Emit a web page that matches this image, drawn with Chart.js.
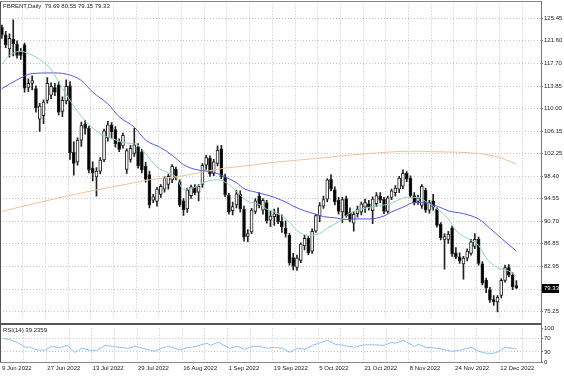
<!DOCTYPE html>
<html><head><meta charset="utf-8">
<script src="https://cdn.jsdelivr.net/npm/chart.js@4/dist/chart.umd.min.js"></script>
<style>
html,body{margin:0;padding:0;background:#fff;}
body{width:564px;height:376px;overflow:hidden;position:relative;}
canvas{position:absolute;left:0;}
.t{position:absolute;font-family:"Liberation Sans",Arial,sans-serif;font-size:6px;line-height:7px;color:#222;white-space:pre;}
</style></head><body>
<canvas id="main" width="564" height="324" style="top:0"></canvas>
<canvas id="rsi" width="564" height="52" style="top:324px"></canvas>
<div id="title" class="t" style="left:3px;top:3px"></div>
<div id="rsiTitle" class="t" style="left:3px;top:327px"></div>
<script>
// ---------- categories (trading days) ----------
const dates = [
 "9 Jun 2022","10 Jun 2022","13 Jun 2022","14 Jun 2022","15 Jun 2022","16 Jun 2022","17 Jun 2022","20 Jun 2022","21 Jun 2022","22 Jun 2022",
 "23 Jun 2022","24 Jun 2022","27 Jun 2022","28 Jun 2022","29 Jun 2022","30 Jun 2022","1 Jul 2022","4 Jul 2022","5 Jul 2022","6 Jul 2022",
 "7 Jul 2022","8 Jul 2022","11 Jul 2022","12 Jul 2022","13 Jul 2022","14 Jul 2022","15 Jul 2022","18 Jul 2022","19 Jul 2022","20 Jul 2022",
 "21 Jul 2022","22 Jul 2022","25 Jul 2022","26 Jul 2022","27 Jul 2022","28 Jul 2022","29 Jul 2022","1 Aug 2022","2 Aug 2022","3 Aug 2022",
 "4 Aug 2022","5 Aug 2022","8 Aug 2022","9 Aug 2022","10 Aug 2022","11 Aug 2022","12 Aug 2022","15 Aug 2022","16 Aug 2022","17 Aug 2022",
 "18 Aug 2022","19 Aug 2022","22 Aug 2022","23 Aug 2022","24 Aug 2022","25 Aug 2022","26 Aug 2022","29 Aug 2022","30 Aug 2022","31 Aug 2022",
 "1 Sep 2022","2 Sep 2022","5 Sep 2022","6 Sep 2022","7 Sep 2022","8 Sep 2022","9 Sep 2022","12 Sep 2022","13 Sep 2022","14 Sep 2022",
 "15 Sep 2022","16 Sep 2022","19 Sep 2022","20 Sep 2022","21 Sep 2022","22 Sep 2022","23 Sep 2022","26 Sep 2022","27 Sep 2022","28 Sep 2022",
 "29 Sep 2022","30 Sep 2022","3 Oct 2022","4 Oct 2022","5 Oct 2022","6 Oct 2022","7 Oct 2022","10 Oct 2022","11 Oct 2022","12 Oct 2022",
 "13 Oct 2022","14 Oct 2022","17 Oct 2022","18 Oct 2022","19 Oct 2022","20 Oct 2022","21 Oct 2022","24 Oct 2022","25 Oct 2022","26 Oct 2022",
 "27 Oct 2022","28 Oct 2022","31 Oct 2022","1 Nov 2022","2 Nov 2022","3 Nov 2022","4 Nov 2022","7 Nov 2022","8 Nov 2022","9 Nov 2022",
 "10 Nov 2022","11 Nov 2022","14 Nov 2022","15 Nov 2022","16 Nov 2022","17 Nov 2022","18 Nov 2022","21 Nov 2022","22 Nov 2022","23 Nov 2022",
 "24 Nov 2022","25 Nov 2022","28 Nov 2022","29 Nov 2022","30 Nov 2022","1 Dec 2022","2 Dec 2022","5 Dec 2022","6 Dec 2022","7 Dec 2022",
 "8 Dec 2022","9 Dec 2022","12 Dec 2022","13 Dec 2022","14 Dec 2022","15 Dec 2022","16 Dec 2022"
];

// ---------- OHLC series ----------
const open = [123.9,122.6,120.2,121.9,121.0,119.7,120.9,113.6,114.3,113.4,
 108.2,108.8,111.4,112.3,113.6,114.0,109.5,111.3,113.9,102.5,
 100.8,104.6,107.3,106.6,99.8,98.3,99.3,101.2,105.0,107.2,
 106.4,104.3,103.6,99.6,101.3,102.3,103.4,102.6,100.1,98.7,
 94.3,94.1,95.3,96.2,97.0,97.8,99.6,97.4,94.2,92.8,
 95.1,96.5,95.7,97.0,100.3,101.5,98.9,100.6,103.1,98.3,
 95.2,92.5,93.5,95.3,92.8,88.1,88.9,92.4,95.0,92.6,
 93.9,90.9,91.5,92.0,90.7,89.5,88.3,84.5,82.8,84.0,
 86.5,87.8,85.6,89.0,91.6,93.3,94.5,97.9,96.1,94.3,
 92.3,94.6,92.2,90.4,92.0,92.3,93.1,93.7,92.5,93.7,
 95.0,94.5,92.4,94.8,95.6,96.2,96.7,98.9,98.1,95.1,
 94.1,93.4,96.0,92.6,94.2,92.8,90.2,87.5,87.6,89.6,
 85.3,84.6,83.4,84.4,85.2,86.4,87.6,83.4,80.6,79.0,
 77.3,76.9,78.0,80.6,82.8,81.5,79.69];
const high = [124.3,123.2,122.8,125.2,121.6,120.3,121.2,115.1,115.6,113.9,
 110.9,111.5,115.3,114.4,114.3,114.6,112.0,114.9,114.6,104.3,
 105.0,107.7,108.0,107.0,100.9,99.9,101.6,106.5,107.8,107.6,
 106.9,104.8,105.8,103.1,103.7,106.6,104.0,103.0,100.8,99.3,
 95.3,96.5,97.0,98.3,98.8,100.4,100.0,97.8,94.6,96.4,
 96.9,97.0,97.0,100.6,102.0,101.9,101.3,103.6,103.7,98.8,
 95.5,94.0,96.0,95.9,93.3,89.3,92.9,94.6,95.6,94.6,
 94.3,92.5,92.8,93.0,91.8,90.8,88.6,85.2,84.9,87.0,
 88.3,88.1,89.4,91.9,93.9,95.0,98.0,98.7,96.6,94.8,
 94.8,95.0,93.0,92.3,93.3,94.0,94.5,94.3,94.9,95.6,
 95.6,94.8,95.0,96.2,96.8,98.4,99.5,99.2,98.5,95.6,
 95.2,97.0,96.4,94.3,95.3,93.0,90.5,88.6,89.0,89.9,
 86.2,85.3,84.7,86.0,87.6,88.6,88.0,83.8,81.0,79.4,
 78.0,78.0,80.9,83.2,83.3,81.9,80.55];
const low = [122.0,120.4,118.8,119.0,118.6,118.4,112.8,112.9,113.2,109.4,
 106.1,107.4,110.9,111.7,112.2,108.9,108.6,110.8,101.3,98.6,
 100.3,103.5,105.6,99.0,97.6,95.0,98.8,100.9,104.4,104.9,
 103.4,102.6,103.2,98.9,100.8,101.8,99.8,99.0,97.4,93.0,
 93.9,93.3,94.8,95.7,96.2,97.3,97.8,93.2,91.7,92.2,
 94.6,95.2,94.2,96.5,99.6,98.4,98.5,100.2,98.0,94.9,
 91.9,91.8,93.0,92.3,87.3,87.2,88.6,92.0,93.0,91.9,
 90.4,89.8,90.0,90.3,88.8,88.0,83.2,82.4,82.3,83.6,
 85.8,85.0,85.2,88.8,90.6,92.9,94.0,95.9,93.5,91.9,
 90.5,91.4,90.6,89.0,91.4,91.8,92.2,92.6,90.3,93.2,
 93.9,92.0,92.1,94.4,95.0,95.6,96.3,97.5,94.8,93.5,
 93.6,92.9,92.2,92.1,92.6,89.7,87.5,82.5,86.9,84.7,
 84.3,83.5,80.8,83.9,84.9,86.0,83.2,79.8,78.5,76.8,
 76.3,75.2,77.6,80.3,81.2,79.0,79.15];
const close = [122.6,120.9,122.0,121.1,119.1,119.1,113.5,114.3,114.8,110.1,
 110.4,111.1,114.3,113.8,112.8,109.4,111.4,113.8,102.4,100.6,
 104.6,107.1,106.6,99.5,99.0,99.3,101.2,106.2,107.2,106.0,
 104.0,103.0,105.4,102.8,103.2,103.8,100.2,99.5,97.9,93.5,
 94.9,96.2,96.7,98.1,98.4,100.1,98.2,93.5,92.7,96.1,
 96.6,95.6,96.7,100.3,101.6,98.8,100.9,102.9,98.4,95.2,
 92.3,93.2,95.4,92.8,88.0,88.6,92.6,94.2,93.4,94.3,
 90.8,91.6,92.0,90.6,89.8,88.6,83.6,83.0,84.4,86.8,
 87.8,85.3,89.0,91.7,93.4,94.4,97.8,96.2,94.0,92.4,
 94.4,91.6,90.9,91.9,92.8,93.7,93.9,93.1,94.5,95.1,
 94.3,92.4,94.7,95.9,96.4,98.1,98.9,97.9,95.1,93.9,
 94.7,96.7,92.6,93.9,93.1,90.0,87.9,88.1,88.5,85.1,
 84.6,83.9,84.4,85.6,87.2,87.6,83.5,80.1,79.3,77.2,
 76.9,77.7,80.6,82.8,81.5,79.5,79.33];

// ---------- moving averages ----------
const maFast = [["9 Jun 2022",117.6],["13 Jun 2022",119.1],["16 Jun 2022",119.8],["20 Jun 2022",119.4],["23 Jun 2022",118.4],
 ["28 Jun 2022",116.7],["30 Jun 2022",114.6],["4 Jul 2022",112.4],["7 Jul 2022",109.5],["11 Jul 2022",107.9],["15 Jul 2022",105.7],
 ["20 Jul 2022",104.9],["25 Jul 2022",104.2],["29 Jul 2022",103.7],["2 Aug 2022",102.3],["5 Aug 2022",100.0],["10 Aug 2022",99.0],
 ["12 Aug 2022",98.3],["16 Aug 2022",96.2],["19 Aug 2022",96.5],["24 Aug 2022",97.5],["29 Aug 2022",97.8],["1 Sep 2022",97.0],
 ["5 Sep 2022",95.8],["8 Sep 2022",94.1],["13 Sep 2022",93.6],["15 Sep 2022",92.8],["20 Sep 2022",92.0],["23 Sep 2022",90.6],
 ["27 Sep 2022",89.1],["30 Sep 2022",88.3],["5 Oct 2022",88.6],["7 Oct 2022",89.5],["12 Oct 2022",90.6],["17 Oct 2022",92.1],
 ["20 Oct 2022",92.8],["26 Oct 2022",93.3],["31 Oct 2022",93.6],["2 Nov 2022",94.1],["7 Nov 2022",94.8],["10 Nov 2022",94.8],
 ["14 Nov 2022",94.1],["17 Nov 2022",92.8],["22 Nov 2022",91.1],["24 Nov 2022",89.1],["29 Nov 2022",87.8],["2 Dec 2022",86.6],
 ["6 Dec 2022",84.4],["9 Dec 2022",82.8],["14 Dec 2022",82.2],["16 Dec 2022",81.3]];
const maMid = [["9 Jun 2022",113.4],["15 Jun 2022",114.9],["21 Jun 2022",116.0],["28 Jun 2022",116.1],["4 Jul 2022",115.9],
 ["8 Jul 2022",114.8],["13 Jul 2022",112.8],["19 Jul 2022",110.8],["22 Jul 2022",108.6],["28 Jul 2022",106.8],["2 Aug 2022",104.6],
 ["8 Aug 2022",103.3],["11 Aug 2022",102.0],["16 Aug 2022",100.4],["19 Aug 2022",99.6],["24 Aug 2022",99.3],["26 Aug 2022",99.1],
 ["31 Aug 2022",98.3],["5 Sep 2022",97.3],["7 Sep 2022",96.3],["12 Sep 2022",95.7],["15 Sep 2022",95.2],["19 Sep 2022",94.8],
 ["22 Sep 2022",94.0],["26 Sep 2022",93.3],["29 Sep 2022",92.5],["4 Oct 2022",91.9],["6 Oct 2022",91.5],["11 Oct 2022",91.3],
 ["14 Oct 2022",91.0],["18 Oct 2022",91.1],["24 Oct 2022",91.1],["28 Oct 2022",91.6],["1 Nov 2022",92.3],["4 Nov 2022",93.1],
 ["9 Nov 2022",93.9],["11 Nov 2022",93.9],["17 Nov 2022",93.3],["22 Nov 2022",92.5],["28 Nov 2022",92.0],["2 Dec 2022",91.1],
 ["7 Dec 2022",89.5],["12 Dec 2022",87.8],["16 Dec 2022",85.6]];
const maSlow = [["9 Jun 2022",92.4],["4 Jul 2022",95.0],["15 Jul 2022",96.2],["28 Jul 2022",97.3],["3 Aug 2022",97.8],
 ["12 Aug 2022",98.3],["31 Aug 2022",99.8],["9 Sep 2022",100.3],["19 Sep 2022",100.8],["5 Oct 2022",101.5],["18 Oct 2022",102.1],
 ["24 Oct 2022",102.3],["8 Nov 2022",102.7],["17 Nov 2022",102.6],["2 Dec 2022",102.3],["9 Dec 2022",101.7],["16 Dec 2022",100.5]];

// ---------- RSI(14) ----------
const rsi14 = [["9 Jun 2022",70],["13 Jun 2022",67],["15 Jun 2022",57],["17 Jun 2022",44],["20 Jun 2022",45],["22 Jun 2022",36],
 ["24 Jun 2022",35],["28 Jun 2022",47],["30 Jun 2022",42],["4 Jul 2022",50],["6 Jul 2022",29],["8 Jul 2022",41],["12 Jul 2022",35],
 ["14 Jul 2022",35],["18 Jul 2022",50],["20 Jul 2022",47],["22 Jul 2022",44],["26 Jul 2022",41],["28 Jul 2022",47],["1 Aug 2022",41],
 ["4 Aug 2022",32],["8 Aug 2022",41],["10 Aug 2022",47],["15 Aug 2022",36],["17 Aug 2022",44],["18 Aug 2022",44],["24 Aug 2022",56],
 ["25 Aug 2022",50],["29 Aug 2022",59],["1 Sep 2022",41],["5 Sep 2022",47],["7 Sep 2022",38],["9 Sep 2022",47],["13 Sep 2022",47],
 ["15 Sep 2022",41],["19 Sep 2022",44],["21 Sep 2022",41],["23 Sep 2022",29],["27 Sep 2022",41],["29 Sep 2022",38],["3 Oct 2022",50],
 ["7 Oct 2022",65],["11 Oct 2022",53],["13 Oct 2022",50],["18 Oct 2022",44],["20 Oct 2022",50],["24 Oct 2022",52],["28 Oct 2022",50],
 ["1 Nov 2022",59],["2 Nov 2022",56],["4 Nov 2022",65],["9 Nov 2022",47],["10 Nov 2022",53],["14 Nov 2022",44],["17 Nov 2022",41],
 ["23 Nov 2022",32],["25 Nov 2022",35],["30 Nov 2022",44],["2 Dec 2022",32],["6 Dec 2022",26],["8 Dec 2022",26],["9 Dec 2022",30],
 ["13 Dec 2022",44],["15 Dec 2022",41],["16 Dec 2022",39.2359]];

// ---------- tick labels ----------
const priceTicks = [125.45,121.60,117.70,113.85,110.00,106.15,102.25,98.40,94.55,90.70,86.85,82.95,79.10,75.25];
const rsiTicks = [0,30,70,100];
const symbol = "FBRENT,Daily";
const rsiName = "RSI(14)";

// ---------- build ----------
const N = dates.length, last = N - 1;
const slots = dates.concat(["","","","","",""]);
const FONT = {family:'"Liberation Sans", Arial, sans-serif', size:6};
const GRID = '#c4c4c4';
const xGrid = c => (c.index % 6 === 0 && c.index > 0) ? GRID : 'rgba(0,0,0,0)';
const pts = arr => arr.map(([d,v]) => ({x:d, y:v}));

document.getElementById('title').textContent =
  symbol + "  " + [open[last],high[last],low[last],close[last]].map(v=>v.toFixed(2)).join(" ");
document.getElementById('rsiTitle').textContent = rsiName + " " + rsi14[rsi14.length-1][1].toFixed(4);

const mainFrame = {
  id:'mainFrame',
  afterDraw(chart){
    const {ctx, chartArea:a, scales} = chart;
    ctx.save();
    ctx.fillStyle = '#555'; ctx.fillRect(0, 1, 1, chart.height);
    ctx.fillStyle = '#8a8a8a'; ctx.fillRect(0, 1, a.right, 1);
    ctx.fillStyle = '#777'; ctx.fillRect(a.right, 1, 1, chart.height);
    ctx.fillStyle = '#555'; ctx.fillRect(0, chart.height - 1, a.right + 1, 1);
    const y = Math.round(scales.y.getPixelForValue(close[last]));
    ctx.fillStyle = '#000'; ctx.fillRect(a.right + 1, y - 4, 17, 9);
    ctx.fillStyle = '#fff'; ctx.font = '6px "Liberation Sans", Arial'; ctx.textBaseline = 'middle';
    ctx.fillText(close[last].toFixed(2), a.right + 3, y + 0.5);
    ctx.restore();
  }
};
const rsiFrame = {
  id:'rsiFrame',
  afterDraw(chart){
    const {ctx, chartArea:a} = chart;
    ctx.save();
    ctx.fillStyle = '#555'; ctx.fillRect(0, 0, a.right + 1, 1);
    ctx.fillRect(0, 0, 1, a.bottom + 1);
    ctx.fillStyle = '#777'; ctx.fillRect(a.right, 0, 1, a.bottom + 1);
    ctx.fillStyle = '#8a8a8a'; ctx.fillRect(0, a.bottom, a.right, 1);
    ctx.restore();
  }
};

Chart.defaults.font.family = FONT.family;

new Chart(document.getElementById('main'), {
  type:'bar',
  data:{
    labels: slots,
    datasets:[
      {type:'line', data:pts(maFast), borderColor:'#8fd5b6', borderWidth:1, pointRadius:0, spanGaps:true, cubicInterpolationMode:'monotone', order:0},
      {type:'line', data:pts(maMid), borderColor:'#5a58d4', borderWidth:1, pointRadius:0, spanGaps:true, cubicInterpolationMode:'monotone', order:0},
      {type:'line', data:pts(maSlow), borderColor:'#f0c29c', borderWidth:1, pointRadius:0, spanGaps:true, cubicInterpolationMode:'monotone', order:1},
      {type:'bar', data:dates.map((d,i)=>[open[i],close[i]]), grouped:false, barThickness:3, minBarLength:1,
        backgroundColor: c => close[c.dataIndex] >= open[c.dataIndex] ? '#ffffff' : '#000000',
        borderColor:'#222', borderWidth:1, borderSkipped:false, order:2},
      {type:'bar', data:dates.map((d,i)=>[low[i],high[i]]), grouped:false, barThickness:1,
        backgroundColor:'#222', borderWidth:0, order:3}
    ]
  },
  options:{
    responsive:false, animation:false, devicePixelRatio:1,
    layout:{padding:{left:0, top:1, right:0, bottom:1}},
    plugins:{legend:{display:false}, tooltip:{enabled:false}},
    scales:{
      x:{type:'category', offset:true,
         grid:{offset:true, color:xGrid, drawTicks:false},
         border:{display:false, dash:[1,2]},
         ticks:{display:false, autoSkip:false},
         afterFit: s => { s.height = 0; }},
      y:{position:'right', min:73.91, max:127.79,
         afterBuildTicks: s => { s.ticks = priceTicks.map(v => ({value:v})); },
         afterFit: s => { s.width = 23; },
         grid:{color:GRID, tickLength:2, tickColor:'#666'},
         border:{display:false, dash:[1,2]},
         ticks:{font:FONT, color:'#222', padding:1, callback: v => Number(v).toFixed(2)}}
    }
  },
  plugins:[mainFrame]
});

new Chart(document.getElementById('rsi'), {
  type:'line',
  data:{labels: slots, datasets:[
    {data:pts(rsi14), borderColor:'#8cc3f2', borderWidth:1, pointRadius:0, spanGaps:true}
  ]},
  options:{
    responsive:false, animation:false, devicePixelRatio:1,
    layout:{padding:{left:0, top:3, right:0, bottom:0}},
    plugins:{legend:{display:false}, tooltip:{enabled:false}},
    scales:{
      x:{type:'category', offset:true,
         grid:{offset:true, color:xGrid, drawTicks:false},
         border:{display:false, dash:[1,2]},
         ticks:{autoSkip:false, maxRotation:0, minRotation:0, align:'start', labelOffset:-1, padding:3,
                font:FONT, color:'#222',
                callback:(v,i) => (i % 12 === 0 && i < N) ? slots[i] : ''},
         afterFit: s => { s.height = 14; }},
      y:{position:'right', min:0, max:100,
         afterBuildTicks: s => { s.ticks = rsiTicks.map(v => ({value:v})); },
         afterFit: s => { s.width = 23; },
         grid:{color: c => (c.tick && (c.tick.value === 30 || c.tick.value === 70)) ? GRID : 'rgba(0,0,0,0)', tickLength:2, tickColor:'#666'},
         border:{display:false, dash:[1,2]},
         ticks:{font:FONT, color:'#222', padding:1}}
    }
  },
  plugins:[rsiFrame]
});
</script>
</body></html>
